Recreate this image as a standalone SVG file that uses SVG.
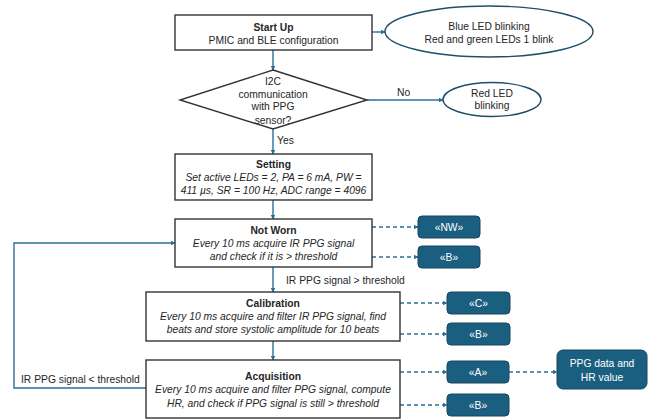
<svg xmlns="http://www.w3.org/2000/svg" width="652" height="420" viewBox="0 0 652 420">
<defs>
<marker id="ah" viewBox="0 0 10 10" refX="9" refY="5" markerWidth="5" markerHeight="5" orient="auto" markerUnits="userSpaceOnUse">
<path d="M0,0 L10,5 L0,10 z" fill="#2A6F97"/>
</marker>
<style>
.box{fill:#fff;stroke:#333;stroke-width:1.4}
.ell{fill:#fff;stroke:#1F4E6B;stroke-width:1.4}
.tag{fill:#1B5F80;stroke:#16465E;stroke-width:1}
.t{font-family:"Liberation Sans","Noto Sans",Arial,sans-serif;font-size:10.3px;fill:#262626;text-anchor:middle}
.b{font-weight:bold}
.i{font-style:italic}
.w{fill:#fff}
.l{text-anchor:start}
.c{fill:none;stroke:#2A6F97;stroke-width:1.4}
.d{fill:none;stroke:#2A6F97;stroke-width:1.4;stroke-dasharray:4 3}
</style>
</defs>
<g id="connectors">
<line class="c" x1="372" y1="32" x2="385" y2="32" marker-end="url(#ah)"/>
<line class="c" x1="273" y1="50" x2="273" y2="70" marker-end="url(#ah)"/>
<line class="c" x1="367" y1="100" x2="443" y2="100" marker-end="url(#ah)"/>
<text class="t l" x="397" y="96">No</text>
<line class="c" x1="273" y1="129" x2="273" y2="154" marker-end="url(#ah)"/>
<text class="t l" x="277" y="144">Yes</text>
<line class="c" x1="273" y1="200" x2="273" y2="219" marker-end="url(#ah)"/>
<line class="c" x1="273" y1="267" x2="273" y2="292" marker-end="url(#ah)"/>
<text class="t l" x="286" y="284">IR PPG signal &gt; threshold</text>
<line class="c" x1="273" y1="341" x2="273" y2="360" marker-end="url(#ah)"/>
<polyline class="c" points="146,388 14,388 14,243 175,243" marker-end="url(#ah)"/>
<text class="t l" x="21" y="383">IR PPG signal &lt; threshold</text>
<line class="d" x1="372" y1="227" x2="418" y2="227" marker-end="url(#ah)"/>
<line class="d" x1="372" y1="257" x2="418" y2="257" marker-end="url(#ah)"/>
<line class="d" x1="400" y1="303" x2="447" y2="303" marker-end="url(#ah)"/>
<line class="d" x1="400" y1="334" x2="447" y2="334" marker-end="url(#ah)"/>
<line class="d" x1="400" y1="372" x2="447" y2="372" marker-end="url(#ah)"/>
<line class="d" x1="400" y1="405" x2="447" y2="405" marker-end="url(#ah)"/>
<line class="d" x1="509" y1="372" x2="557" y2="372" marker-end="url(#ah)"/>
</g>
<g id="startup">
<rect class="box" x="175" y="15" width="197" height="35"/>
<text class="t b" x="273.5" y="31">Start Up</text>
<text class="t" x="273.5" y="44">PMIC and BLE configuration</text>
</g>
<g id="led-blue">
<ellipse class="ell" cx="489" cy="31.5" rx="104" ry="25.5"/>
<text class="t" x="489" y="30">Blue LED blinking</text>
<text class="t" x="489" y="43">Red and green LEDs 1 blink</text>
</g>
<g id="i2c">
<polygon class="box" points="273,70 367,100 273,129 180,100"/>
<text class="t" x="273" y="85">I2C</text>
<text class="t" x="273" y="97.5">communication</text>
<text class="t" x="273" y="110">with PPG</text>
<text class="t" x="273" y="123.5">sensor?</text>
</g>
<g id="led-red">
<ellipse class="ell" cx="492" cy="99.5" rx="49" ry="17"/>
<text class="t" x="492" y="97">Red LED</text>
<text class="t" x="492" y="109">blinking</text>
</g>
<g id="setting">
<rect class="box" x="175" y="154" width="197" height="46"/>
<text class="t b" x="273.5" y="168">Setting</text>
<text class="t i" x="273.5" y="180.5">Set active LEDs = 2, PA = 6 mA, PW =</text>
<text class="t i" x="273.5" y="194">411 µs, SR = 100 Hz, ADC range = 4096</text>
</g>
<g id="notworn">
<rect class="box" x="175" y="219" width="197" height="48"/>
<text class="t b" x="273.5" y="234">Not Worn</text>
<text class="t i" x="273.5" y="247">Every 10 ms acquire IR PPG signal</text>
<text class="t i" x="273.5" y="260">and check if it is &gt; threshold</text>
</g>
<g id="calibration">
<rect class="box" x="146" y="292" width="254" height="49"/>
<text class="t b" x="273" y="307">Calibration</text>
<text class="t i" x="273" y="320">Every 10 ms acquire and filter IR PPG signal, find</text>
<text class="t i" x="273" y="333">beats and store systolic amplitude for 10 beats</text>
</g>
<g id="acquisition">
<rect class="box" x="146" y="360" width="254" height="58"/>
<text class="t b" x="273" y="379.5">Acquisition</text>
<text class="t i" x="273" y="393">Every 10 ms acquire and filter PPG signal, compute</text>
<text class="t i" x="273" y="406.5">HR, and check if PPG signal is still &gt; threshold</text>
</g>
<g id="tag-nw"><rect class="tag" x="418" y="216" width="62" height="22" rx="4"/><text class="t w" x="449" y="230.5">«NW»</text></g>
<g id="tag-b1"><rect class="tag" x="418" y="246" width="62" height="22" rx="4"/><text class="t w" x="449" y="260.5">«B»</text></g>
<g id="tag-c"><rect class="tag" x="447" y="292" width="63" height="22" rx="4"/><text class="t w" x="478.5" y="306.5">«C»</text></g>
<g id="tag-b2"><rect class="tag" x="447" y="323" width="63" height="22" rx="4"/><text class="t w" x="478.5" y="337.5">«B»</text></g>
<g id="tag-a"><rect class="tag" x="447" y="361" width="62" height="22" rx="4"/><text class="t w" x="478" y="375.5">«A»</text></g>
<g id="tag-b3"><rect class="tag" x="447" y="394" width="62" height="22" rx="4"/><text class="t w" x="478" y="408.5">«B»</text></g>
<g id="ppg-data">
<rect class="tag" x="557" y="350" width="90" height="39" rx="6"/>
<text class="t w" x="602" y="367">PPG data and</text>
<text class="t w" x="602" y="381">HR value</text>
</g>
</svg>
